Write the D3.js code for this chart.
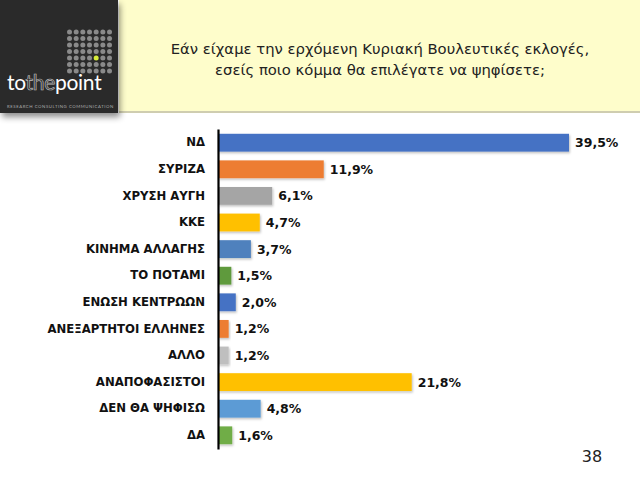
<!DOCTYPE html>
<html>
<head>
<meta charset="utf-8">
<script src="https://cdn.jsdelivr.net/npm/d3@7"></script>
<style>
  body { margin: 0; background: #fff; }
  svg { display: block; }
</style>
</head>
<body>
<div id="chart"></div>
<script>
// data
const parties = ["ΝΔ", "ΣΥΡΙΖΑ", "ΧΡΥΣΗ ΑΥΓΗ", "ΚΚΕ", "ΚΙΝΗΜΑ ΑΛΛΑΓΗΣ", "ΤΟ ΠΟΤΑΜΙ",
  "ΕΝΩΣΗ ΚΕΝΤΡΩΩΝ", "ΑΝΕΞΑΡΤΗΤΟΙ ΕΛΛΗΝΕΣ", "ΑΛΛΟ", "ΑΝΑΠΟΦΑΣΙΣΤΟΙ", "ΔΕΝ ΘΑ ΨΗΦΙΣΩ", "ΔΑ"];
const values = [39.5, 11.9, 6.1, 4.7, 3.7, 1.5, 2.0, 1.2, 1.2, 21.8, 4.8, 1.6];
const barColors = ["#4472C4", "#ED7D31", "#A5A5A5", "#FFC000", "#4F81BD", "#5E9A3C",
  "#4472C4", "#ED7D31", "#BFBFBF", "#FFC000", "#5B9BD5", "#70AD47"];
const titleLines = ["Εάν είχαμε την ερχόμενη Κυριακή Βουλευτικές εκλογές,",
  "εσείς ποιο κόμμα θα επιλέγατε να ψηφίσετε;"];

const width = 640, height = 480;
const axisX = 218;

const svg = d3.select("#chart").append("svg")
  .attr("width", width)
  .attr("height", height);

const defs = svg.append("defs");
const blur = defs.append("filter").attr("id", "shadow")
  .attr("x", "-10%").attr("y", "-10%").attr("width", "130%").attr("height", "160%");
blur.append("feDropShadow").attr("dx", 1).attr("dy", 1.5).attr("stdDeviation", 1)
  .attr("flood-color", "#000").attr("flood-opacity", 0.25);
const panelShadow = defs.append("filter").attr("id", "panelShadow")
  .attr("x", "-10%").attr("y", "-10%").attr("width", "130%").attr("height", "130%");
panelShadow.append("feDropShadow").attr("dx", 2).attr("dy", 4).attr("stdDeviation", 3)
  .attr("flood-color", "#000").attr("flood-opacity", 0.45);

/* HEADER */
svg.append("rect")
  .attr("x", 119).attr("y", 0).attr("width", 521).attr("height", 112)
  .attr("fill", "#FEFDCB");
svg.append("rect")
  .attr("x", 119).attr("y", 111).attr("width", 521).attr("height", 2)
  .attr("fill", "#CFCDB0");

svg.append("rect")
  .attr("x", 0).attr("y", 0).attr("width", 118).attr("height", 113)
  .attr("fill", "#2B2B2B")
  .attr("filter", "url(#panelShadow)");

// dot grid of the logo
const logo = svg.append("g");
d3.range(7).forEach(r => {
  d3.range(7).forEach(c => {
    logo.append("circle")
      .attr("cx", 69.5 + c * 6.67)
      .attr("cy", 32 + r * 6.5)
      .attr("r", 2.5)
      .attr("fill", (r === 4 && c === 4) ? "#D7EC3A" : "#8A8A8A");
  });
});

const brand = svg.append("text")
  .attr("x", 7).attr("y", 90)
  .attr("font-family", "Lato, 'DejaVu Sans', sans-serif")
  .attr("font-size", 21)
  .attr("letter-spacing", "-0.3");
brand.append("tspan").attr("fill", "#fff").text("to");
brand.append("tspan").attr("fill", "#2B2B2B").attr("stroke", "#bbb").attr("stroke-width", 0.7).text("the");
brand.append("tspan").attr("fill", "#fff").text("point");

svg.append("text")
  .attr("x", 7).attr("y", 108)
  .attr("font-family", "Lato, sans-serif")
  .attr("font-size", 4.3)
  .attr("fill", "#aaa")
  .attr("letter-spacing", "0.55")
  .text("RESEARCH  CONSULTING  COMMUNICATION");

svg.append("text")
  .attr("x", 380).attr("y", 54)
  .attr("text-anchor", "middle")
  .attr("font-family", "'DejaVu Sans', sans-serif")
  .attr("font-size", 14.8)
  .attr("fill", "#222")
  .selectAll("tspan")
  .data(titleLines)
  .join("tspan")
  .attr("x", 380)
  .attr("dy", (d, i) => i === 0 ? 0 : 21)
  .text(d => d);

/* CHART */
const xScale = d3.scaleLinear()
  .domain([0, 39.5])
  .range([axisX, 569]);

const yScale = d3.scaleBand()
  .domain(parties)
  .range([129, 449])
  .paddingInner(0.33)
  .paddingOuter(0.18);

svg.selectAll(".bar")
  .data(values)
  .join("rect")
  .attr("class", "bar")
  .attr("x", xScale(0))
  .attr("y", (d, i) => yScale(parties[i]))
  .attr("width", d => xScale(d) - xScale(0))
  .attr("height", yScale.bandwidth())
  .attr("fill", (d, i) => barColors[i])
  .attr("filter", "url(#shadow)");

svg.selectAll(".value-label")
  .data(values)
  .join("text")
  .attr("class", "value-label")
  .attr("x", d => xScale(d) + 6)
  .attr("y", (d, i) => yScale(parties[i]) + yScale.bandwidth() / 2)
  .attr("dy", "0.36em")
  .attr("font-family", "'DejaVu Sans', sans-serif")
  .attr("font-size", 12.5)
  .attr("font-weight", "bold")
  .attr("fill", "#111")
  .text(d => d3.format(".1f")(d).replace(".", ",") + "%");

// category axis on the left
const yAxis = d3.axisLeft(yScale).tickSize(0).tickPadding(13);
const axisG = svg.append("g")
  .attr("transform", `translate(${axisX}, 0)`)
  .call(yAxis);
axisG.select(".domain")
  .attr("stroke", "#000")
  .attr("stroke-width", 2.2);
axisG.selectAll("text")
  .attr("font-family", "'DejaVu Sans', sans-serif")
  .attr("font-size", 11.7)
  .attr("font-weight", "bold")
  .attr("fill", "#111");

// page number
svg.append("text")
  .attr("x", 592).attr("y", 462)
  .attr("text-anchor", "middle")
  .attr("font-family", "'DejaVu Sans', sans-serif")
  .attr("font-size", 16)
  .attr("fill", "#222")
  .text("38");
</script>
</body>
</html>
